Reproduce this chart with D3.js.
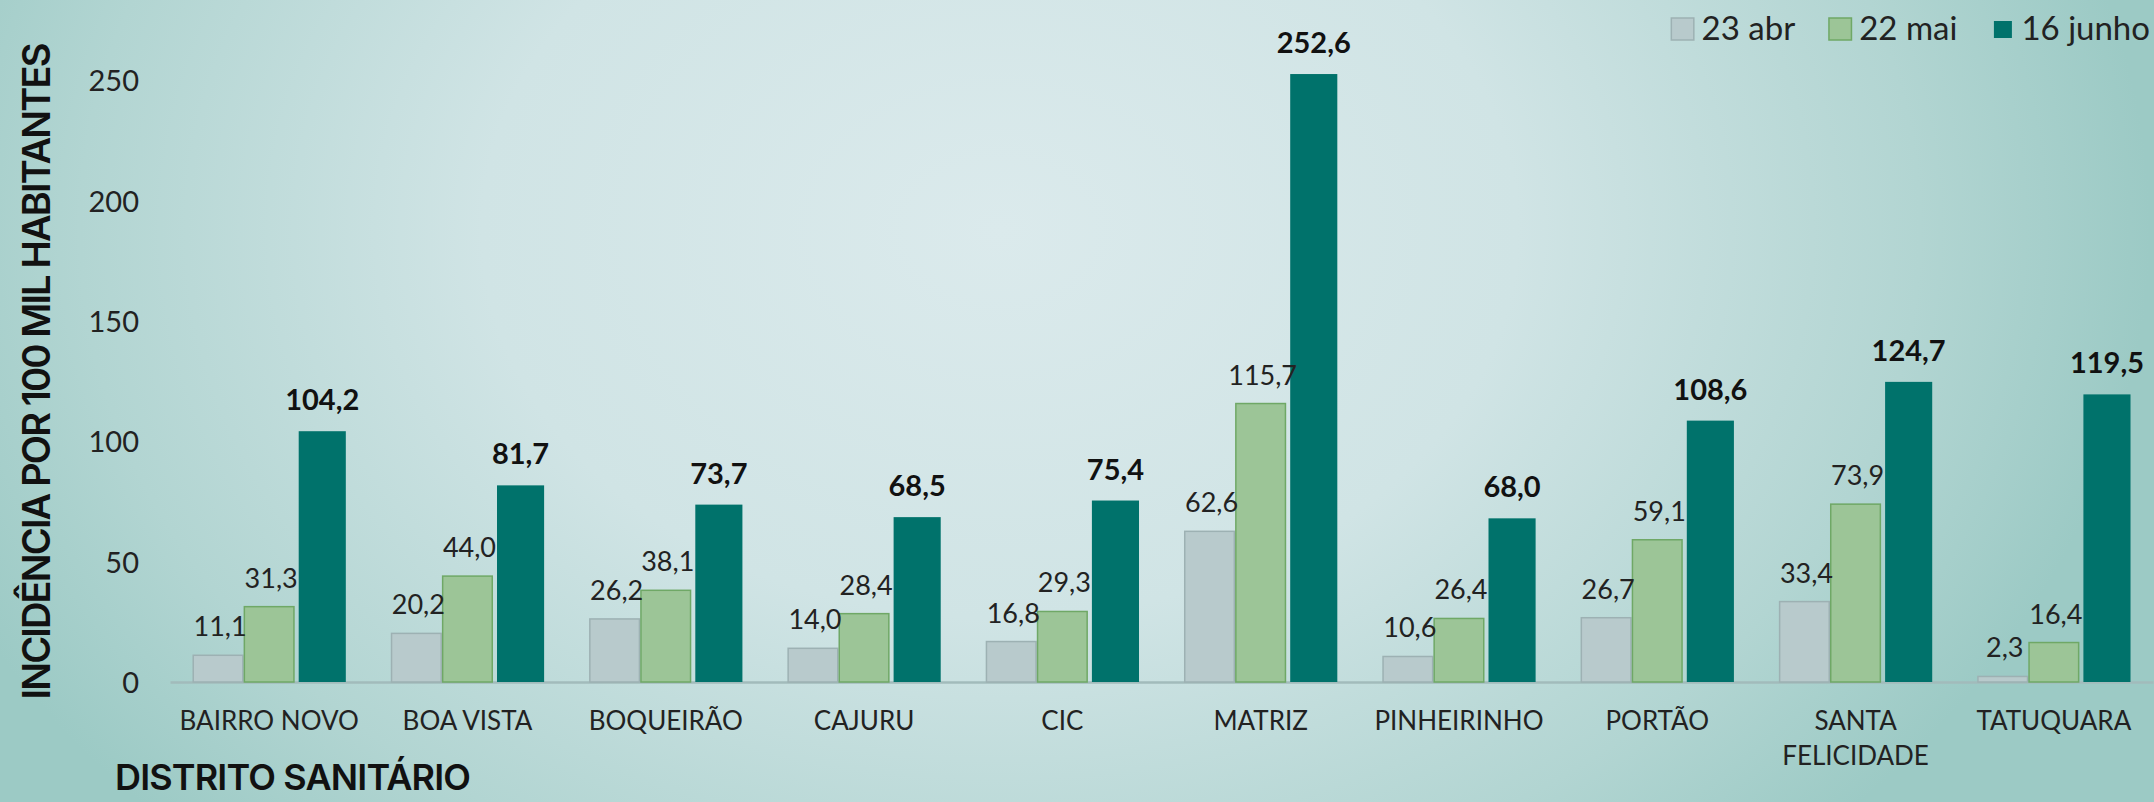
<!DOCTYPE html>
<html>
<head>
<meta charset="utf-8">
<script src="https://cdn.jsdelivr.net/npm/d3@7"></script>
<style>
  html, body { margin: 0; padding: 0; background: #c8e0e0; }
  svg { display: block; }
  .tick text { font-family: Lato, sans-serif; fill: #222; }
</style>
</head>
<body>
<div id="chart-area"></div>
<script>

// DATA

let districts = ["BAIRRO NOVO", "BOA VISTA", "BOQUEIRÃO", "CAJURU", "CIC", "MATRIZ",
	"PINHEIRINHO", "PORTÃO", "SANTA FELICIDADE", "TATUQUARA"];

let seriesNames = ["23 abr", "22 mai", "16 junho"];

let abr23 = [11.1, 20.2, 26.2, 14.0, 16.8, 62.6, 10.6, 26.7, 33.4, 2.3];
let mai22 = [31.3, 44.0, 38.1, 28.4, 29.3, 115.7, 26.4, 59.1, 73.9, 16.4];
let jun16 = [104.2, 81.7, 73.7, 68.5, 75.4, 252.6, 68.0, 108.6, 124.7, 119.5];

let yTicks = [0, 50, 100, 150, 200, 250];


// CHART AREA

let width = 2154,
	height = 802;

let svg = d3.select("#chart-area").append("svg")
	.attr("width", width)
	.attr("height", height);

// background gradient
let defs = svg.append("defs");
let grad = defs.append("radialGradient")
	.attr("id", "bg")
	.attr("gradientUnits", "userSpaceOnUse")
	.attr("cx", 1000).attr("cy", 230).attr("r", 1150)
	.attr("gradientTransform", "translate(1000,230) scale(1,0.75) translate(-1000,-230)");
grad.append("stop").attr("offset", 0).attr("stop-color", "#dbeaec");
grad.append("stop").attr("offset", 0.45).attr("stop-color", "#d0e4e5");
grad.append("stop").attr("offset", 0.8).attr("stop-color", "#b2d5d2");
grad.append("stop").attr("offset", 1).attr("stop-color", "#9ccac5");

svg.append("rect")
	.attr("width", width)
	.attr("height", height)
	.attr("fill", "url(#bg)");


// SCALES

let xScale = d3.scaleBand()
	.domain(districts)
	.range([170, 2153])
	.padding(0);

let xSub = d3.scaleBand()
	.domain(seriesNames)
	.range([0, xScale.bandwidth()])
	.paddingInner(0)
	.paddingOuter(0.44);

let yScale = d3.scaleLinear()
	.domain([0, 250])
	.range([682, 80.3]);

let fills = {"23 abr": "#b8cacc", "22 mai": "#9cc597", "16 junho": "#00726b"};
let strokes = {"23 abr": "#9db1b3", "22 mai": "#6fa866", "16 junho": "none"};

let ptFormat = d3.formatLocale({decimal: ",", thousands: ".", grouping: [3], currency: ["R$", ""]}).format(".1f");

let rows = districts.map((d, i) => ({
	district: d,
	values: [
		{series: "23 abr", value: abr23[i]},
		{series: "22 mai", value: mai22[i]},
		{series: "16 junho", value: jun16[i]}
	]
}));


// ---- AXES ----

let yAxis = d3.axisLeft(yScale)
	.tickValues(yTicks)
	.tickSize(0)
	.tickPadding(6);

svg.append("g")
	.attr("class", "y-axis axis")
	.attr("transform", "translate(145,0)")
	.call(yAxis)
	.call(g => g.select(".domain").remove())
	.selectAll("text")
	.style("font-size", "29px")
	.attr("dy", "0.36em");

let xAxis = d3.axisBottom(xScale)
	.tickSize(0)
	.tickSizeOuter(0);

let xAxisGroup = svg.append("g")
	.attr("class", "x-axis axis")
	.attr("transform", "translate(0,682)")
	.call(xAxis);

xAxisGroup.select(".domain")
	.attr("stroke", "#a2bbbb")
	.attr("stroke-width", 2.5);

xAxisGroup.selectAll("text")
	.style("font-size", "26px")
	.attr("y", 48)
	.attr("dy", 0)
	.call(wrap, xScale.bandwidth() - 14);


// ---- BARS ----

let groups = svg.selectAll(".group")
	.data(rows)
	.enter()
	.append("g")
	.attr("class", "group")
	.attr("transform", d => "translate(" + xScale(d.district) + ",0)");

groups.selectAll("rect")
	.data(d => d.values)
	.enter()
	.append("rect")
	.attr("x", d => d.series == "16 junho" ? xSub(d.series) + 4 : xSub(d.series) + 0.75)
	.attr("y", d => yScale(d.value))
	.attr("width", d => d.series == "16 junho" ? xSub.bandwidth() - 4 : xSub.bandwidth() - 1.5)
	.attr("height", d => yScale(0) - yScale(d.value))
	.attr("fill", d => fills[d.series])
	.attr("stroke", d => strokes[d.series])
	.attr("stroke-width", 1.5);

groups.selectAll("text.value")
	.data(d => d.values)
	.enter()
	.append("text")
	.attr("class", "value")
	.attr("x", d => xSub(d.series) + xSub.bandwidth() / 2 + 2)
	.attr("y", d => yScale(d.value) - (d.series == "16 junho" ? 21 : 19))
	.attr("text-anchor", "middle")
	.style("font-family", "Lato, sans-serif")
	.style("font-size", d => d.series == "16 junho" ? "29px" : "27px")
	.style("font-weight", d => d.series == "16 junho" ? "bold" : "normal")
	.attr("fill", d => d.series == "16 junho" ? "#111" : "#222")
	.text(d => ptFormat(d.value));


// ---- AXIS TITLES ----

svg.append("text")
	.attr("transform", "translate(36,371) rotate(-90)")
	.attr("text-anchor", "middle")
	.attr("dy", "0.36em")
	.attr("textLength", 657)
	.attr("lengthAdjust", "spacing")
	.style("font-family", "Inter, 'Open Sans', sans-serif")
	.style("font-size", "38px")
	.style("font-weight", 600)
	.attr("fill", "#111")
	.text("INCIDÊNCIA POR 100 MIL HABITANTES");

svg.append("text")
	.attr("x", 115)
	.attr("y", 790)
	.attr("textLength", 356)
	.attr("lengthAdjust", "spacing")
	.style("font-family", "Inter, 'Open Sans', sans-serif")
	.style("font-size", "36px")
	.style("font-weight", 600)
	.attr("fill", "#111")
	.text("DISTRITO SANITÁRIO");


// ---- LEGEND ----

let legend = svg.append("g").attr("class", "legend");
let legendRight = 2150;
let items = legend.selectAll("g")
	.data(seriesNames)
	.enter()
	.append("g");

items.append("text")
	.attr("x", 31)
	.attr("y", 40)
	.style("font-family", "Lato, sans-serif")
	.style("font-size", "33px")
	.attr("fill", "#222")
	.text(d => d);

items.append("rect")
	.attr("x", d => d == "16 junho" ? 3.5 : 0.75)
	.attr("y", d => d == "16 junho" ? 21 : 18)
	.attr("width", d => d == "16 junho" ? 18 : 22.5)
	.attr("height", d => d == "16 junho" ? 17 : 22)
	.attr("fill", d => fills[d])
	.attr("stroke", d => strokes[d])
	.attr("stroke-width", 1.5);

// place legend items from right to left
let cursor = legendRight;
let widths = [];
items.each(function() { widths.push(31 + d3.select(this).select("text").node().getComputedTextLength()); });
for (let i = seriesNames.length - 1; i >= 0; i--) {
	cursor -= widths[i];
	d3.select(items.nodes()[i]).attr("transform", "translate(" + cursor + ",0)");
	cursor -= 33;
}


function wrap(text, maxWidth) {
	text.each(function() {
		let t = d3.select(this);
		if (this.getComputedTextLength() <= maxWidth) return;
		let words = t.text().split(" ");
		let y = t.attr("y");
		t.text(null);
		words.forEach((w, i) => {
			t.append("tspan")
				.attr("x", 0)
				.attr("y", y)
				.attr("dy", (i * 35) + "px")
				.text(w);
		});
	});
}

</script>
</body>
</html>
